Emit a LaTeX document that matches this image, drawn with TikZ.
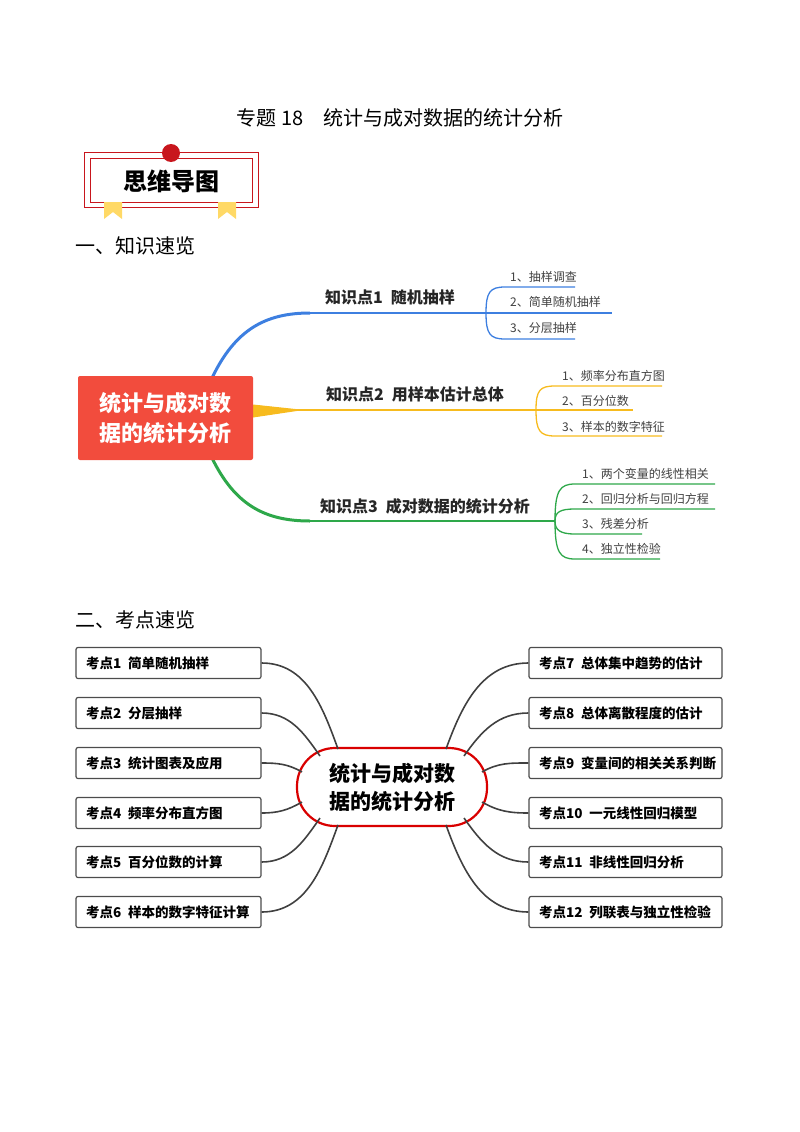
\documentclass[tikz,border=0pt]{standalone}
\usepackage{fontspec}
\setmainfont{Noto Sans CJK SC}
\usetikzlibrary{calc}
\definecolor{rootred}{HTML}{F24C3D}
\definecolor{bblue}{HTML}{3D7FE0}
\definecolor{byellow}{HTML}{F7BB1E}
\definecolor{bgreen}{HTML}{2EA84A}
\definecolor{dred}{HTML}{C8161D}
\definecolor{ribbon}{HTML}{FFD966}
\tikzset{
  sub/.style={anchor=west,font=\fontsize{12}{14}\selectfont,text=black!75,inner sep=0pt},
  kp/.style={anchor=center,font=\bfseries\fontsize{16}{18}\selectfont,text=black!85,inner sep=0pt},
  kbox/.style={draw=black!70,line width=1.2pt,rounded corners=2pt,minimum height=31pt,inner sep=0pt},
  ktext/.style={font=\bfseries\fontsize{13.5}{15}\selectfont,anchor=west,inner sep=0pt},
  conn/.style={draw=black!75,line width=1.6pt},
}
\begin{document}
\begin{tikzpicture}[x=1pt,y=-1pt]
\useasboundingbox (0,0) rectangle (800,1132);
\node (title) at (400,118) {\fontsize{20}{22}\selectfont 专题 18\quad 统计与成对数据的统计分析};
% badge
\draw[dred,line width=1pt] (84,152) rectangle (258,207);
\draw[dred,line width=1pt] (90,158) rectangle (252,202);
\fill[ribbon] (104,202) -- (122,202) -- (122,219) -- (113,212) -- (104,219) -- cycle;
\fill[ribbon] (218,202) -- (236,202) -- (236,219) -- (227,212) -- (218,219) -- cycle;
\fill[dred] (171,153) circle (9);
\node (badge) at (171,181) {\bfseries\fontsize{24}{26}\selectfont 思维导图};
\node[anchor=west] (h1) at (72,246) {\fontsize{20}{22}\selectfont 一、知识速览};
% upper mindmap
\draw[bblue,line width=3pt] (212,378) .. controls (235,330) and (265,313) .. (310,313);
\draw[bblue,line width=1.5pt] (305,313) -- (486,313);
\draw[byellow,line width=1pt,fill=byellow] (253,405) -- (300,410) -- (253,417) -- cycle;
\draw[byellow,line width=1.5pt] (290,410) -- (536,410);
\draw[bgreen,line width=3pt] (212,458) .. controls (235,505) and (265,521) .. (310,521);
\draw[bgreen,line width=1.5pt] (305,521) -- (555,521);
\node[fill=rootred,rounded corners=2pt,minimum width=175pt,minimum height=84pt,text=white,align=center,font=\bfseries\fontsize{22}{30}\selectfont] (root) at (165.5,418) {统计与成对数\\据的统计分析};
\node[kp] (k1) at (390,297) {知识点1\hspace{0.5em}随机抽样};
\node[kp] (k2) at (415,394) {知识点2\hspace{0.5em}用样本估计总体};
\node[kp] (k3) at (425,506) {知识点3\hspace{0.5em}成对数据的统计分析};
% sub blue
\begin{scope}[bblue,line width=1.3pt]
\draw (486,313) .. controls (486,292) and (490,287) .. (505,287) -- (575,287);
\draw (486,313) -- (612,313);
\draw (486,313) .. controls (486,334) and (490,339) .. (505,339) -- (575,339);
\end{scope}
\node[sub] (s11) at (510,277) {1、抽样调查};
\node[sub] (s12) at (510,302) {2、简单随机抽样};
\node[sub] (s13) at (510,328) {3、分层抽样};
% sub yellow
\begin{scope}[byellow,line width=1.3pt]
\draw (536,410) .. controls (536,390) and (540,386) .. (555,386) -- (662,386);
\draw (536,410) -- (633,410);
\draw (536,410) .. controls (536,431) and (540,436) .. (555,436) -- (662,436);
\end{scope}
\node[sub] (s21) at (562,376) {1、频率分布直方图};
\node[sub] (s22) at (562,401) {2、百分位数};
\node[sub] (s23) at (562,427) {3、样本的数字特征};
% sub green
\begin{scope}[bgreen,line width=1.3pt]
\draw (555,521) .. controls (555,490) and (560,484) .. (575,484) -- (715,484);
\draw (555,521) .. controls (555,512) and (560,509) .. (575,509) -- (715,509);
\draw (555,521) .. controls (555,530) and (560,534) .. (575,534) -- (642,534);
\draw (555,521) .. controls (555,553) and (560,559) .. (575,559) -- (660,559);
\end{scope}
\node[sub] (s31) at (582,474) {1、两个变量的线性相关};
\node[sub] (s32) at (582,499) {2、回归分析与回归方程};
\node[sub] (s33) at (582,524) {3、残差分析};
\node[sub] (s34) at (582,549) {4、独立性检验};
\node[anchor=west] (h2) at (72,620) {\fontsize{20}{22}\selectfont 二、考点速览};
% lower mindmap
\node[draw=red!85!black,line width=2.2pt,rounded corners=38pt,minimum width=190pt,minimum height=78pt,align=center,font=\bfseries\fontsize{21}{28}\selectfont] (c) at (392,787) {统计与成对数\\据的统计分析};
\foreach \i/\y/\t in {1/663/简单随机抽样,2/713/分层抽样,3/763/统计图表及应用,4/813/频率分布直方图,5/862/百分位数的计算,6/912/样本的数字特征计算}{
  \node[kbox,minimum width=185pt] (L\i) at (168.5,\y) {};
  \node[ktext] (LT\i) at (86,\y) {考点\i\hspace{0.5em}\t};
}
\foreach \i/\y/\t in {7/663/总体集中趋势的估计,8/713/总体离散程度的估计,9/763/变量间的相关关系判断,10/813/一元线性回归模型,11/862/非线性回归分析,12/912/列联表与独立性检验}{
  \node[kbox,minimum width=193pt] (R\i) at (625.5,\y) {};
  \node[ktext] (RT\i) at (539,\y) {考点\i\hspace{0.5em}\t};
}
\coordinate (cl1) at (338,749); \coordinate (cl2) at (320,756); \coordinate (cl3) at (302,772);
\coordinate (cl4) at (302,802); \coordinate (cl5) at (320,818); \coordinate (cl6) at (338,825);
\coordinate (cr7) at (446,749); \coordinate (cr8) at (464,756); \coordinate (cr9) at (482,772);
\coordinate (cr10) at (482,802); \coordinate (cr11) at (464,818); \coordinate (cr12) at (446,825);
\draw[conn] (L1.east) to[out=0,in=110] (cl1);
\draw[conn] (L2.east) to[out=0,in=125] (cl2);
\draw[conn] (L3.east) to[out=0,in=150] (cl3);
\draw[conn] (L4.east) to[out=0,in=210] (cl4);
\draw[conn] (L5.east) to[out=0,in=235] (cl5);
\draw[conn] (L6.east) to[out=0,in=250] (cl6);
\draw[conn] (R7.west) to[out=180,in=70] (cr7);
\draw[conn] (R8.west) to[out=180,in=55] (cr8);
\draw[conn] (R9.west) to[out=180,in=30] (cr9);
\draw[conn] (R10.west) to[out=180,in=-30] (cr10);
\draw[conn] (R11.west) to[out=180,in=-55] (cr11);
\draw[conn] (R12.west) to[out=180,in=-70] (cr12);
\end{tikzpicture}
\end{document}
